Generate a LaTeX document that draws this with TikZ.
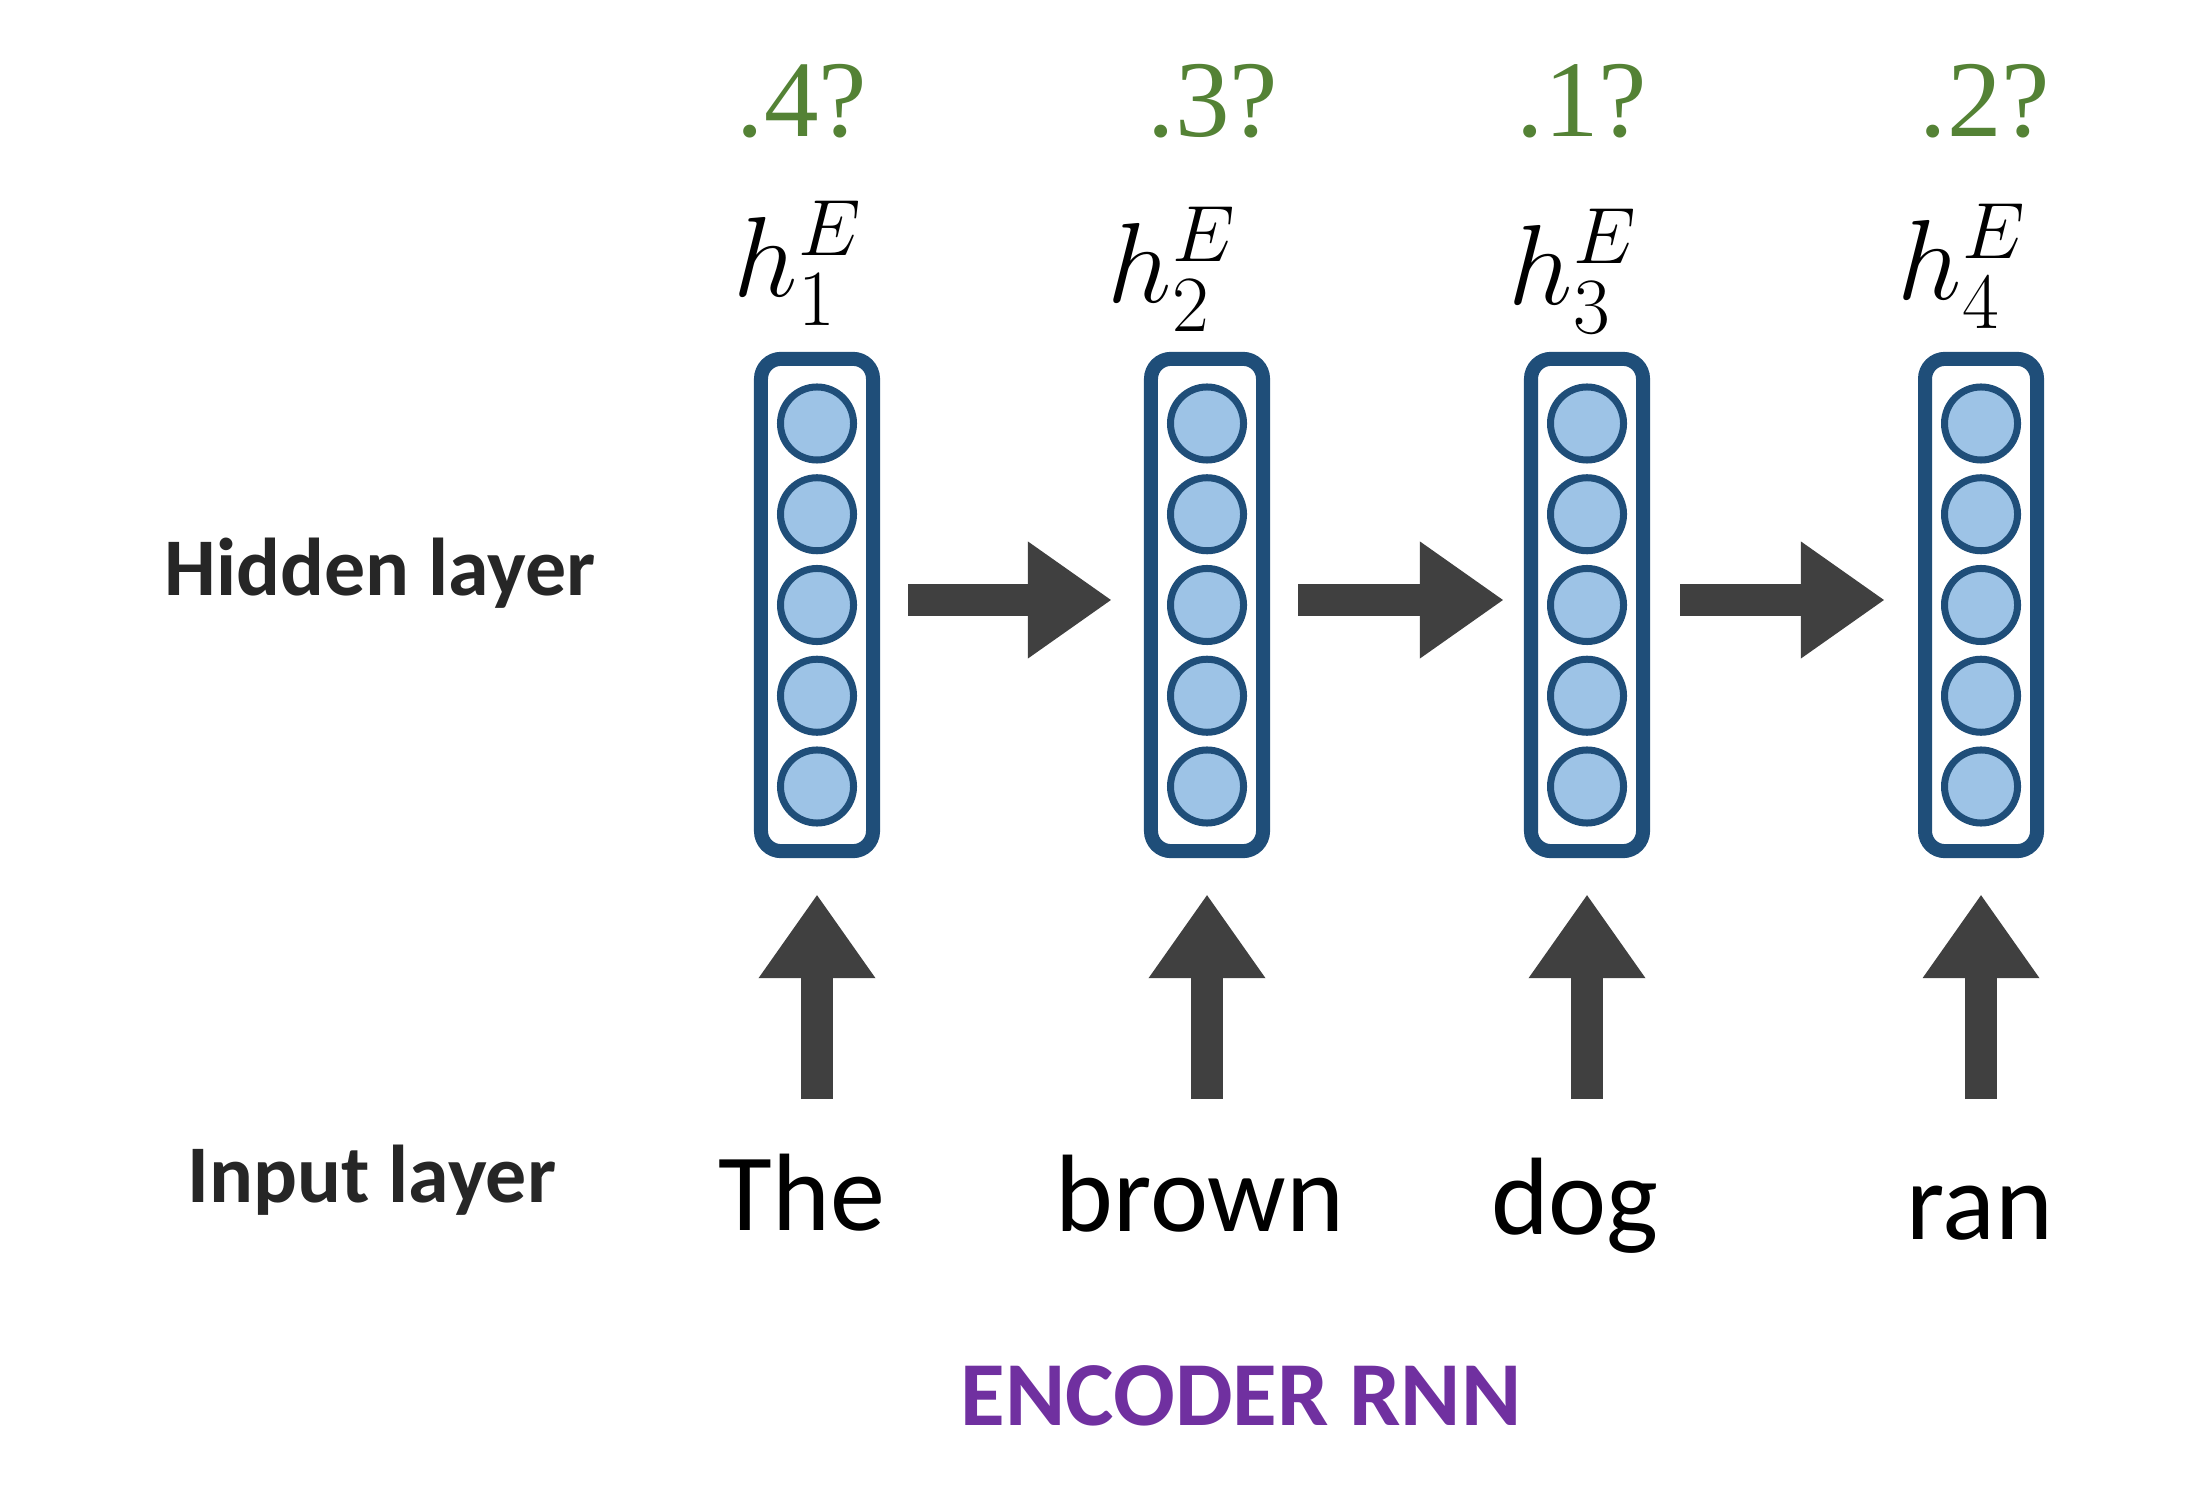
\RequirePackage{fix-cm}
\documentclass[tikz,border=0pt]{standalone}
\usepackage[no-math]{fontspec}
\setmainfont{Liberation Serif}
\newfontfamily\calfont{Carlito}
\usetikzlibrary{arrows.meta}
\definecolor{boxblue}{HTML}{1F4E79}
\definecolor{unitfill}{HTML}{9DC3E6}
\definecolor{arrowgray}{HTML}{404040}
\definecolor{probgreen}{HTML}{548235}
\definecolor{labelgray}{HTML}{262626}
\definecolor{rnnpurple}{HTML}{7030A0}
\begin{document}
\begin{tikzpicture}[x=0.01cm,y=-0.01cm,
  layerbox/.style={draw=boxblue, line width=0.14cm, rounded corners=0.2cm,
    minimum width=1.12cm, minimum height=4.92cm, inner sep=0pt, fill=white},
  unit/.style={circle, draw=boxblue, fill=unitfill, line width=0.07cm,
    minimum size=0.73cm, inner sep=0pt},
  blockarrow/.style={draw=arrowgray, line width=0.326cm,
    -{Triangle[length=0.83cm,width=1.17cm,line width=0pt]}},
  problabel/.style={anchor=base, text=probgreen, inner sep=0pt,
    font=\fontsize{31}{36}\selectfont},
  hlabel/.style={anchor=base, inner sep=0pt, font=\fontsize{32.4}{38}\selectfont},
  sidelabel/.style={anchor=base, text=labelgray, inner sep=0pt,
    font=\calfont\bfseries\fontsize{23.3}{28}\selectfont},
  word/.style={anchor=base, inner sep=0pt, font=\calfont\fontsize{31.3}{36}\selectfont},
  titlelabel/.style={anchor=base, text=rnnpurple, inner sep=0pt,
    font=\calfont\bfseries\fontsize{26}{30}\selectfont}
]
\useasboundingbox (0,0) rectangle (2204,1504);

% hidden layer boxes with units
\foreach \i/\x in {1/817,2/1207,3/1587,4/1981} {
  \node[layerbox] (b\i) at (\x,605) {};
  \foreach \j/\y in {1/423.5,2/514.25,3/605,4/695.75,5/786.5}
    \node[unit] (c\i\j) at (\x,\y) {};
}

% recurrent arrows
\draw[blockarrow, shorten <=0.28cm, shorten >=0.33cm] ([yshift=0.05cm]b1.east) -- ([yshift=0.05cm]b2.west);
\draw[blockarrow, shorten <=0.28cm, shorten >=0.21cm] ([yshift=0.05cm]b2.east) -- ([yshift=0.05cm]b3.west);
\draw[blockarrow, shorten <=0.30cm, shorten >=0.34cm] ([yshift=0.05cm]b3.east) -- ([yshift=0.05cm]b4.west);

% input arrows
\coordinate (u1) at (817,1099);
\coordinate (u2) at (1207,1099);
\coordinate (u3) at (1587,1099);
\coordinate (u4) at (1981,1099);
\foreach \i in {1,2,3,4}
  \draw[blockarrow, shorten >=0.37cm] (u\i) -- (b\i.south);

% probabilities
\node[problabel] (p1) at (802,137) {.4?};
\node[problabel] (p2) at (1213,137) {.3?};
\node[problabel] (p3) at (1582,137) {.1?};
\node[problabel] (p4) at (1985,137) {.2?};

% hidden state labels
\node[hlabel] (h1) at (798,297) {$h^{E}_{1}$};
\node[hlabel] (h2) at (1172,303) {$h^{E}_{2}$};
\node[hlabel] (h3) at (1573,305) {$h^{E}_{3}$};
\node[hlabel] (h4) at (1962,300) {$h^{E}_{4}$};

% side labels
\node[sidelabel] (hid) at (380,596) {Hidden layer};
\node[sidelabel] (inp) at (372,1202) {Input layer};

% input words
\node[word] (w1) at (802,1230) {The};
\node[word] (w2) at (1200,1231) {brown};
\node[word] (w3) at (1575,1234) {dog};
\node[word] (w4) at (1980,1239) {ran};

% title
\node[titlelabel] (title) at (1241,1425) {ENCODER RNN};
\end{tikzpicture}
\end{document}
